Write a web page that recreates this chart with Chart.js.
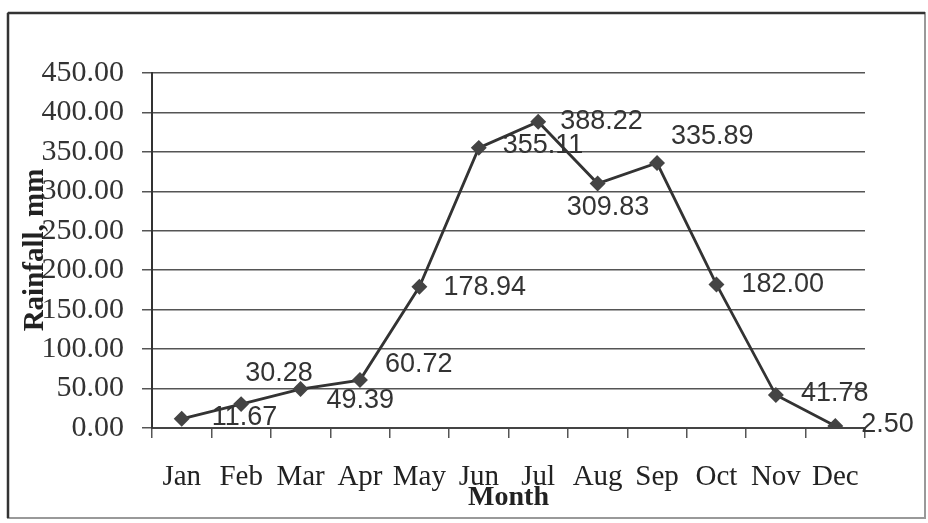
<!DOCTYPE html>
<html>
<head>
<meta charset="utf-8">
<script src="https://cdn.jsdelivr.net/npm/chart.js@4"></script>
<style>
  html, body { margin: 0; padding: 0; background: #fff; }
  #wrap { width: 928px; height: 523px; position: relative; }
</style>
</head>
<body>
<div id="wrap"><canvas id="rainChart" width="928" height="523"></canvas></div>
<script>
const months = ["Jan", "Feb", "Mar", "Apr", "May", "Jun", "Jul", "Aug", "Sep", "Oct", "Nov", "Dec"];
const rainfall = [11.67, 30.28, 49.39, 60.72, 178.94, 355.11, 388.22, 309.83, 335.89, 182.00, 41.78, 2.50];
const yTicks = [0, 50, 100, 150, 200, 250, 300, 350, 400, 450];

// label nudges (dx, dy) from each point, like the hand-placed Excel labels
const labelShift = [[30, -1], [4, -31], [26, 12], [25, -16], [24, 1], [24, -2],
                    [22, 0], [-31, 24], [14, -26], [25, 0], [25, -1], [26, -1]];

const frame = {
    id: "frame",
    beforeDraw(c) {
        let ctx = c.ctx;
        ctx.save();
        ctx.fillStyle = "#fff";
        ctx.fillRect(0, 0, c.width, c.height);
        ctx.strokeStyle = "#999";
        ctx.lineWidth = 2;
        ctx.strokeRect(8, 13, 917, 505);
        ctx.strokeStyle = "#333";
        ctx.lineWidth = 2.5;
        ctx.beginPath();
        ctx.moveTo(8, 13);
        ctx.lineTo(925, 13);
        ctx.moveTo(8, 13);
        ctx.lineTo(8, 518);
        ctx.stroke();
        ctx.restore();
    },
    afterDraw(c) {
        let ctx = c.ctx;
        ctx.save();
        ctx.translate(36, 250);
        ctx.rotate(-Math.PI / 2);
        ctx.font = "bold 29px 'Liberation Serif'";
        ctx.fillStyle = "#222";
        ctx.textAlign = "center";
        ctx.textBaseline = "middle";
        ctx.fillText("Rainfall, mm", 0, 0);
        ctx.restore();
    }
};

const valueLabels = {
    id: "valueLabels",
    afterDatasetsDraw(c) {
        let ctx = c.ctx;
        let meta = c.getDatasetMeta(0);
        ctx.save();
        ctx.font = "27px 'Liberation Sans'";
        ctx.fillStyle = "#333";
        ctx.textAlign = "left";
        ctx.textBaseline = "middle";
        meta.data.forEach((pt, i) => {
            ctx.fillText(rainfall[i].toFixed(2), pt.x + labelShift[i][0], pt.y + labelShift[i][1]);
        });
        ctx.restore();
    }
};

new Chart(document.getElementById("rainChart"), {
    type: "line",
    data: {
        labels: months,
        datasets: [{
            data: rainfall,
            borderColor: "#333",
            borderWidth: 2.8,
            tension: 0,
            pointStyle: "rectRot",
            pointRadius: 6,
            pointBackgroundColor: "#444",
            pointBorderColor: "#444"
        }]
    },
    options: {
        responsive: false,
        animation: false,
        layout: { padding: { top: 73, right: 63, left: 0, bottom: 0 } },
        plugins: { legend: { display: false }, tooltip: { enabled: false } },
        scales: {
            x: {
                offset: true,
                grid: { offset: true, drawOnChartArea: false, drawTicks: true, tickLength: 10, color: "#555", lineWidth: 1.5 },
                border: { color: "#444", width: 2 },
                ticks: { color: "#222", font: { family: "'Liberation Serif'", size: 29 }, padding: 22, maxRotation: 0, autoSkip: false },
                title: { display: true, text: "Month", color: "#222", font: { family: "'Liberation Serif'", size: 28, weight: "bold" }, padding: { top: 0, bottom: 8 } },
                afterFit(s) { s.height = 95; }
            },
            y: {
                min: 0,
                max: 450,
                afterBuildTicks(s) { s.ticks = yTicks.map(v => ({ value: v })); },
                grid: { color: "#555", lineWidth: 1.5, tickLength: 10 },
                border: { color: "#333", width: 2 },
                ticks: { color: "#333", font: { family: "'Liberation Serif'", size: 30 }, padding: 18, callback: v => v.toFixed(2) },
                afterFit(s) { s.width = 152; }
            }
        }
    },
    plugins: [frame, valueLabels]
});
</script>
</body>
</html>
